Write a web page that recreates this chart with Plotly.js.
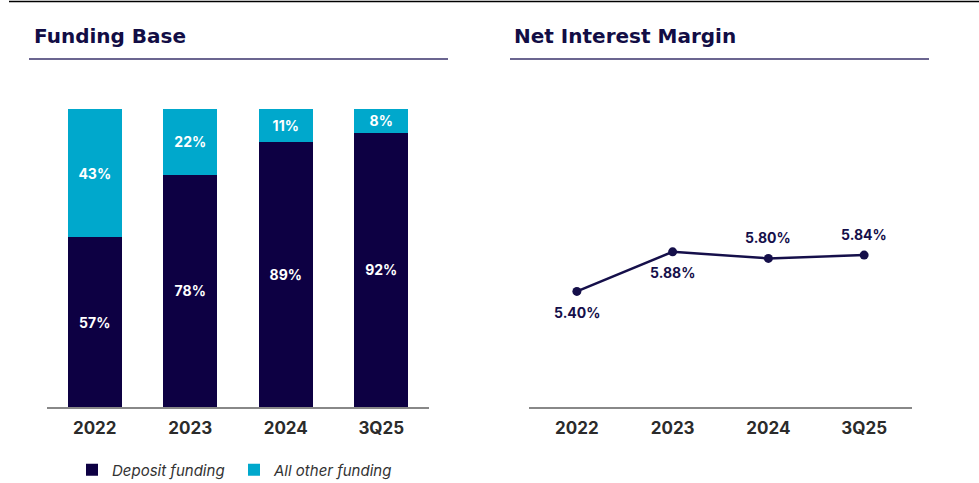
<!DOCTYPE html>
<html>
<head>
<meta charset="utf-8">
<script src="https://cdn.plot.ly/plotly-3.0.1.min.js"></script>
<style>
html,body{margin:0;padding:0;background:#fff;}
#chart{width:979px;height:483px;}
</style>
</head>
<body>
<div id="chart"></div>
<script>
// ---- data ----
const fundingCategories = ["2022", "2023", "2024", "3Q25"];
const depositFunding = [57, 78, 89, 92];
const otherFunding = [43, 22, 11, 8];
const nimCategories = ["2022", "2023", "2024", "3Q25"];
const nimValues = [5.40, 5.88, 5.80, 5.84];
const nimLabels = ["5.40%", "5.88%", "5.80%", "5.84%"];
const nimLabelSide = [-1, -1, 1, 1]; // below, below, above, above

const W = 979, H = 483;
const px = v => v / W;
const py = v => 1 - v / H;

const navy = "#0d0043";
const cyan = "#00a8cc";
const titleColor = "#120d45";
const fontFam = "Inter, 'Open Sans', sans-serif";
const titleFam = "'DejaVu Sans', Inter, sans-serif";

const traces = [
  {
    type: "bar", name: "Deposit funding",
    x: fundingCategories, y: depositFunding,
    text: depositFunding.map(v => v + "%"),
    textposition: "inside", insidetextanchor: "middle",
    textfont: {color: "#ffffff", size: 14, family: fontFam, weight: 700},
    marker: {color: navy, line: {width: 0}},
    xaxis: "x", yaxis: "y", hoverinfo: "skip"
  },
  {
    type: "bar", name: "All other funding",
    x: fundingCategories, y: otherFunding,
    text: otherFunding.map(v => v + "%"),
    textposition: "inside", insidetextanchor: "middle",
    textfont: {color: "#ffffff", size: 14, family: fontFam, weight: 700},
    marker: {color: cyan, line: {width: 0}},
    xaxis: "x", yaxis: "y", hoverinfo: "skip"
  },
  {
    type: "scatter", mode: "lines+markers", showlegend: false,
    x: nimCategories, y: nimValues,
    line: {color: "#150f4a", width: 2.5},
    marker: {color: "#150f4a", size: 9},
    xaxis: "x2", yaxis: "y2", hoverinfo: "skip"
  }
];

const annotations = [
  {text: "Funding Base", xref: "paper", yref: "paper", x: px(32), y: py(36), xanchor: "left", yanchor: "middle",
   showarrow: false, font: {size: 20, color: titleColor, family: titleFam, weight: 700}},
  {text: "Net Interest Margin", xref: "paper", yref: "paper", x: px(512), y: py(36), xanchor: "left", yanchor: "middle",
   showarrow: false, font: {size: 20, color: titleColor, family: titleFam, weight: 700}}
];
nimCategories.forEach((c, i) => {
  annotations.push({
    text: nimLabels[i], x: i, y: nimValues[i], xref: "x2", yref: "y2",
    showarrow: false, yshift: 21 * nimLabelSide[i], xanchor: "center", yanchor: "middle",
    font: {size: 14, color: "#150f4a", family: fontFam, weight: 700}
  });
});

const shapes = [
  {type: "line", xref: "paper", yref: "paper", x0: px(9), x1: 1, y0: py(1.5), y1: py(1.5), line: {color: "#000", width: 1.5}},
  {type: "line", xref: "paper", yref: "paper", x0: px(29), x1: px(448), y0: py(59), y1: py(59), line: {color: "#6b6590", width: 2}},
  {type: "line", xref: "paper", yref: "paper", x0: px(510), x1: px(929), y0: py(59), y1: py(59), line: {color: "#6b6590", width: 2}}
];

const tickFont = {size: 17, color: "#2b2b2b", family: fontFam, weight: 700};

const layout = {
  width: W, height: H,
  margin: {l: 0, r: 0, t: 0, b: 0, autoexpand: false},
  paper_bgcolor: "#fff", plot_bgcolor: "#fff",
  barmode: "stack", bargap: 0.435,
  showlegend: true,
  legend: {
    orientation: "h", traceorder: "normal",
    x: px(72), y: py(470), xanchor: "left", yanchor: "middle",
    font: {size: 15, color: "#333", family: fontFam, style: "italic"},
    entrywidth: 117, entrywidthmode: "pixels", bgcolor: "rgba(0,0,0,0)"
  },
  xaxis: {
    domain: [px(47), px(429)], anchor: "y", type: "category",
    range: [-0.5, 3.5], showgrid: false, zeroline: false,
    showline: true, linecolor: "#888", linewidth: 1.5,
    ticks: "", tickfont: tickFont, ticklabelstandoff: 5, fixedrange: true
  },
  yaxis: {
    domain: [py(407), py(109)], anchor: "x", range: [0, 100],
    visible: false, fixedrange: true
  },
  xaxis2: {
    domain: [px(529), px(912)], anchor: "y2", type: "category",
    range: [-0.5, 3.5], showgrid: false, zeroline: false,
    showline: true, linecolor: "#888", linewidth: 1.5,
    ticks: "", tickfont: tickFont, ticklabelstandoff: 5, fixedrange: true
  },
  yaxis2: {
    domain: [py(407), py(109)], anchor: "x2", range: [4.0, 7.61],
    visible: false, fixedrange: true
  },
  annotations: annotations,
  shapes: shapes
};

Plotly.newPlot("chart", traces, layout, {displayModeBar: false, staticPlot: true});
</script>
</body>
</html>
